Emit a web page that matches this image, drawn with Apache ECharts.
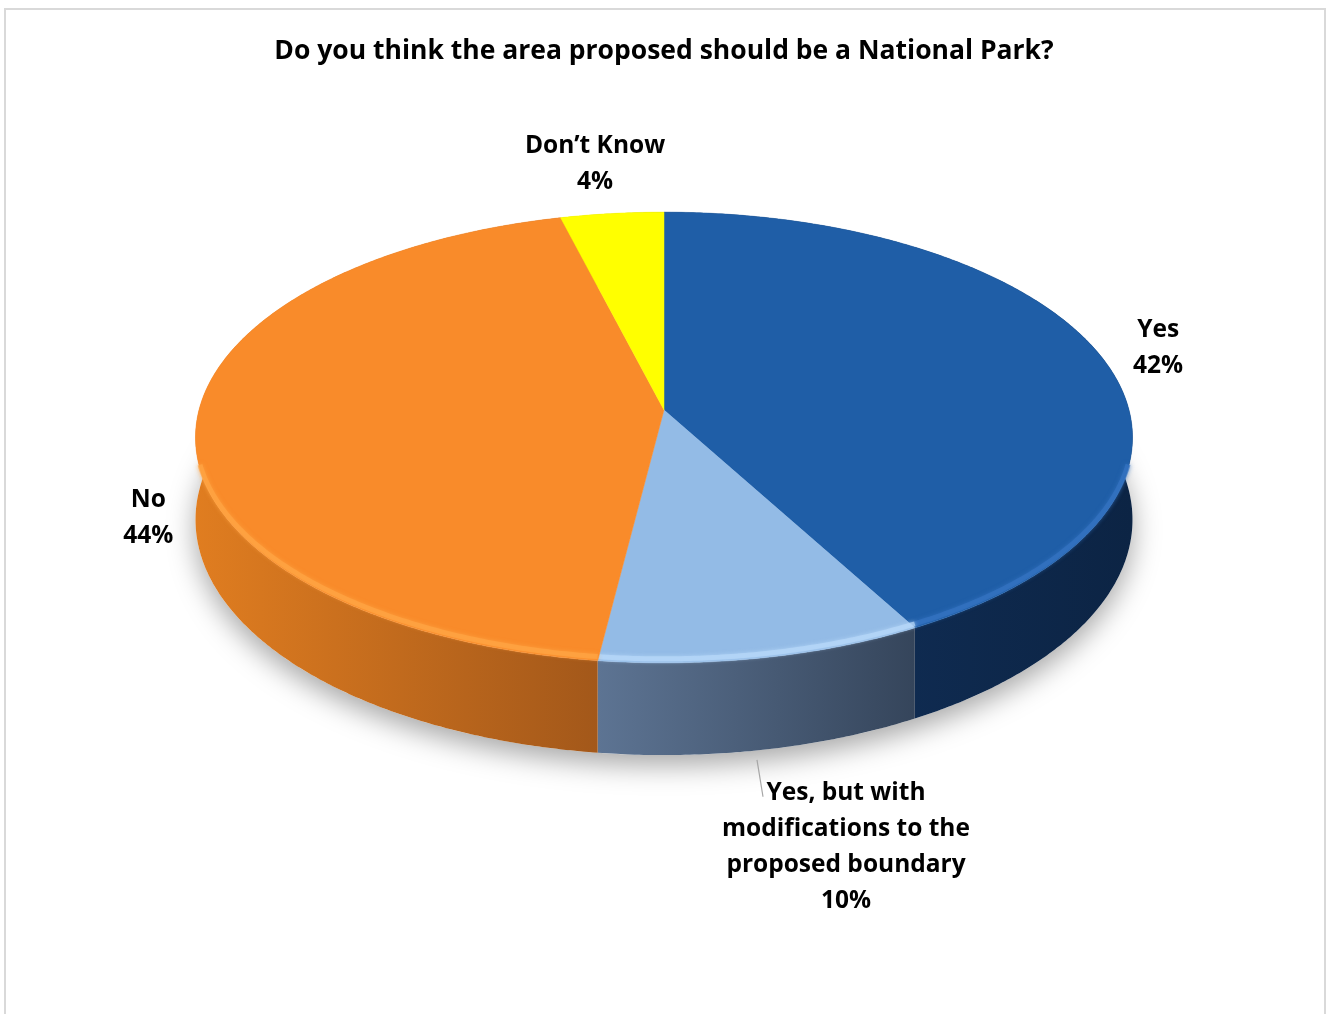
<!DOCTYPE html>
<html>
<head>
<meta charset="utf-8">
<script src="https://cdn.jsdelivr.net/npm/echarts@6/dist/echarts.min.js"></script>
<style>
html,body{margin:0;padding:0;background:#fff;}
#chart{width:1328px;height:1014px;}
</style>
</head>
<body>
<div id="chart"></div>
<script>
// ---- data ----
const titleText = 'Do you think the area proposed should be a National Park?';
const categories = ['Yes', 'Yes, but with\nmodifications to the\nproposed boundary', 'No', 'Don\u2019t Know'];
const values = [42, 10, 44, 4];

// ---- styles ----
const topColors = ['#1f5ea7', '#93bbe6', '#f98b2a', '#ffff00'];
const rimColors = ['#3574c2', '#b8d8fa', '#ffa545', '#ffff70'];
const sideStops = [
  ['#12325e', '#0c2444'],
  ['#5d7493', '#35455b'],
  ['#e07d20', '#a3581a'],
  ['#c8c800', '#a8a800']
];
// label offsets relative to the rim point at each slice's mid angle
const labelOffsets = [[57, -8], [83, 189], [-48, 94], [-17, -50]];

// ---- pie geometry (layout) ----
const G = { cx: 664, cy: 410, A: 465, B: 222, k: 0.122, H: 81 };
const FONT = '"Open Sans", "Noto Sans", sans-serif';
const FS = 24.5;
const TITLE_FS = 26.5;

const total = values.reduce((a, b) => a + b, 0);
const startAng = [];
{ let acc = 0; values.forEach(v => { startAng.push(acc / total * 360); acc += v; }); }

function proj(deg, f, drop) {
  const t = deg * Math.PI / 180;
  const u = f * Math.sin(t), v = f * Math.cos(t);
  const d = 1 + G.k * v;
  return [G.cx + G.A * u / d, G.cy - G.B * v / d + (drop || 0) / d];
}
function arcAngles(a0, a1) {
  const out = [];
  const n = Math.max(2, Math.ceil((a1 - a0) / 0.5));
  for (let i = 0; i <= n; i++) out.push(a0 + (a1 - a0) * i / n);
  return out;
}
function arc(a0, a1, drop) {
  return arcAngles(a0, a1).map(a => proj(a, 1, drop));
}
function sliceAngles(i) {
  const a0 = startAng[i];
  return [a0, a0 + values[i] / total * 360];
}

function renderSides(params, api) {
  const i = params.dataIndex;
  const [a0, a1] = sliceAngles(i);
  const children = [];
  if (i === 0) {
    children.push({
      type: 'polygon',
      shape: { points: arc(0, 360, G.H) },
      style: { fill: '#ffffff', shadowBlur: 28, shadowColor: 'rgba(0,0,0,0.35)', shadowOffsetY: 10 }
    });
  }
  const topPts = arc(a0, a1, 0);
  const botPts = arc(a0, a1, G.H).reverse();
  children.push({
    type: 'polygon',
    shape: { points: topPts.concat(botPts) },
    style: {
      fill: new echarts.graphic.LinearGradient(0, 0, 1, 0, [
        { offset: 0, color: sideStops[i][0] },
        { offset: 1, color: sideStops[i][1] }
      ])
    }
  });
  return { type: 'group', children };
}

function renderTops(params, api) {
  const i = params.dataIndex;
  const [a0, a1] = sliceAngles(i);
  const center = proj(0, 0, 0);
  const rim = arc(a0, a1, 0);
  const children = [];
  children.push({
    type: 'polygon',
    shape: { points: [center].concat(rim) },
    style: { fill: topColors[i], stroke: topColors[i], lineWidth: 0.5 }
  });
  // front rim highlight (bevel)
  const front = arcAngles(a0, a1)
    .filter(a => Math.cos(a * Math.PI / 180) < -0.25)
    .map(a => { const p = proj(a, 1, 0); return [p[0], p[1] - 4]; });
  if (front.length > 1) {
    children.push({
      type: 'polyline',
      shape: { points: front },
      style: { stroke: rimColors[i], lineWidth: 5, opacity: 0.7, fill: null, shadowBlur: 4, shadowColor: rimColors[i] }
    });
  }
  // label
  const mid = (a0 + a1) / 2;
  const anchor = proj(mid, 1, 0);
  const lx = anchor[0] + labelOffsets[i][0];
  const ly = anchor[1] + labelOffsets[i][1];
  children.push({
    type: 'text',
    style: {
      text: categories[i] + '\n' + Math.round(values[i] / total * 100) + '%',
      x: lx, y: ly,
      align: 'center', verticalAlign: 'middle',
      font: 'bold ' + FS + 'px ' + FONT,
      lineHeight: 36,
      fill: '#000000'
    }
  });
  if (i === 1) {
    const bottom = proj(mid, 1, G.H);
    const nLines = (categories[i].match(/\n/g) || []).length + 2;
    children.push({
      type: 'line',
      shape: { x1: bottom[0] - 6, y1: bottom[1] + 10, x2: bottom[0], y2: ly - nLines * 18 + 22 },
      style: { stroke: '#a6a6a6', lineWidth: 1.2 }
    });
  }
  return { type: 'group', children };
}

const chart = echarts.init(document.getElementById('chart'));
chart.setOption({
  animation: false,
  backgroundColor: '#ffffff',
  title: {
    text: titleText,
    left: 'center',
    top: 33,
    textStyle: { fontFamily: FONT, fontWeight: 'bold', fontSize: TITLE_FS, color: '#000' }
  },
  graphic: [{
    type: 'rect',
    shape: { x: 5, y: 9, width: 1320, height: 1030 },
    style: { fill: null, stroke: '#d9d9d9', lineWidth: 2 },
    silent: true,
    z: -10
  }],
  series: [
    { type: 'custom', coordinateSystem: 'none', data: values.map((v, i) => [i, v]), renderItem: renderSides, z: 1 },
    { type: 'custom', coordinateSystem: 'none', data: values.map((v, i) => [i, v]), renderItem: renderTops, z: 2 }
  ]
});
</script>
</body>
</html>
